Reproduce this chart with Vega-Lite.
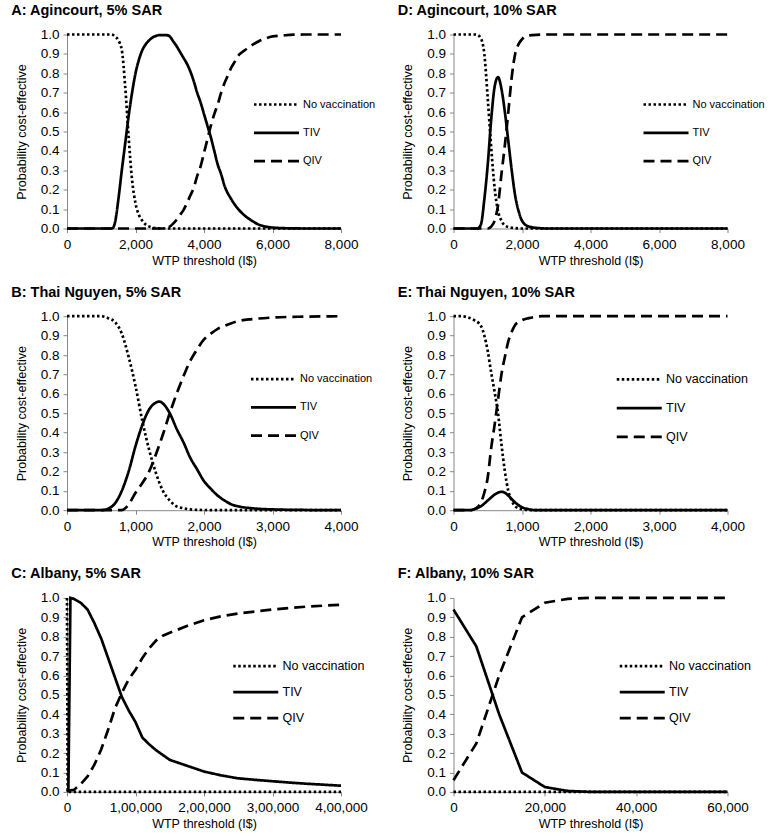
{
  "$schema": "https://vega.github.io/schema/vega-lite/v6.json",
  "padding": {"left": 11, "top": 2.5, "right": 0, "bottom": 5},
  "config": {
    "font": "Liberation Sans",
    "view": {"stroke": null},
    "axis": {
      "labelFont": "Liberation Sans", "labelFontSize": 13.5, "labelColor": "black",
      "titleFont": "Liberation Sans", "titleFontSize": 12.5, "titleFontWeight": "normal", "titleColor": "black",
      "domainColor": "#888888", "tickColor": "#888888", "tickSize": 4, "grid": false
    },
    "axisX": {"labelPadding": 5, "titlePadding": 3, "labelFlush": false, "labelOverlap": false},
    "axisY": {"labelPadding": 4, "titlePadding": 12},
    "title": {"anchor": "start", "frame": "bounds", "font": "Liberation Sans", "fontSize": 14.5, "fontWeight": "bold", "color": "black", "offset": 9, "dx": -4},
    "legend": {
      "orient": "none", "title": null, "padding": 0,
      "symbolType": "M0,0H10", "symbolSize": 81, "symbolStrokeWidth": 2.6, "symbolStrokeColor": "black",
      "labelOffset": 43, "labelFont": "Liberation Sans", "labelColor": "black"
    },
    "line": {"color": "black", "strokeWidth": 2.7}
  },
  "datasets": {
    "A": [
      {"s":"No vaccination","x":0,"y":1},{"s":"No vaccination","x":1300,"y":1},{"s":"No vaccination","x":1400,"y":0.99},{"s":"No vaccination","x":1500,"y":0.97},{"s":"No vaccination","x":1600,"y":0.92},{"s":"No vaccination","x":1700,"y":0.73},{"s":"No vaccination","x":1800,"y":0.47},{"s":"No vaccination","x":1900,"y":0.25},{"s":"No vaccination","x":2000,"y":0.13},{"s":"No vaccination","x":2100,"y":0.07},{"s":"No vaccination","x":2200,"y":0.04},{"s":"No vaccination","x":2300,"y":0.02},{"s":"No vaccination","x":2400,"y":0.01},{"s":"No vaccination","x":2500,"y":0.004},{"s":"No vaccination","x":2700,"y":0.001},{"s":"No vaccination","x":2900,"y":0},{"s":"No vaccination","x":8000,"y":0},
      {"s":"TIV","x":0,"y":0},{"s":"TIV","x":1300,"y":0},{"s":"TIV","x":1350,"y":0.005},{"s":"TIV","x":1400,"y":0.03},{"s":"TIV","x":1500,"y":0.15},{"s":"TIV","x":1600,"y":0.3},{"s":"TIV","x":1700,"y":0.44},{"s":"TIV","x":1800,"y":0.58},{"s":"TIV","x":1900,"y":0.7},{"s":"TIV","x":2000,"y":0.8},{"s":"TIV","x":2100,"y":0.87},{"s":"TIV","x":2200,"y":0.92},{"s":"TIV","x":2300,"y":0.95},{"s":"TIV","x":2400,"y":0.97},{"s":"TIV","x":2500,"y":0.985},{"s":"TIV","x":2600,"y":0.993},{"s":"TIV","x":2700,"y":0.997},{"s":"TIV","x":2900,"y":0.997},{"s":"TIV","x":3000,"y":0.99},{"s":"TIV","x":3100,"y":0.965},{"s":"TIV","x":3200,"y":0.94},{"s":"TIV","x":3300,"y":0.91},{"s":"TIV","x":3400,"y":0.88},{"s":"TIV","x":3500,"y":0.85},{"s":"TIV","x":3600,"y":0.81},{"s":"TIV","x":3700,"y":0.76},{"s":"TIV","x":3800,"y":0.7},{"s":"TIV","x":3900,"y":0.65},{"s":"TIV","x":4000,"y":0.59},{"s":"TIV","x":4100,"y":0.53},{"s":"TIV","x":4200,"y":0.47},{"s":"TIV","x":4300,"y":0.4},{"s":"TIV","x":4400,"y":0.33},{"s":"TIV","x":4500,"y":0.28},{"s":"TIV","x":4600,"y":0.22},{"s":"TIV","x":4800,"y":0.15},{"s":"TIV","x":5000,"y":0.1},{"s":"TIV","x":5200,"y":0.065},{"s":"TIV","x":5400,"y":0.04},{"s":"TIV","x":5600,"y":0.02},{"s":"TIV","x":5800,"y":0.01},{"s":"TIV","x":6000,"y":0.005},{"s":"TIV","x":6500,"y":0.001},{"s":"TIV","x":7000,"y":0},{"s":"TIV","x":8000,"y":0},
      {"s":"QIV","x":0,"y":0},{"s":"QIV","x":2800,"y":0},{"s":"QIV","x":2900,"y":0.003},{"s":"QIV","x":3000,"y":0.01},{"s":"QIV","x":3100,"y":0.025},{"s":"QIV","x":3200,"y":0.045},{"s":"QIV","x":3300,"y":0.07},{"s":"QIV","x":3400,"y":0.095},{"s":"QIV","x":3500,"y":0.13},{"s":"QIV","x":3600,"y":0.17},{"s":"QIV","x":3700,"y":0.21},{"s":"QIV","x":3800,"y":0.27},{"s":"QIV","x":3900,"y":0.32},{"s":"QIV","x":4000,"y":0.39},{"s":"QIV","x":4100,"y":0.46},{"s":"QIV","x":4200,"y":0.53},{"s":"QIV","x":4300,"y":0.59},{"s":"QIV","x":4400,"y":0.64},{"s":"QIV","x":4500,"y":0.7},{"s":"QIV","x":4600,"y":0.75},{"s":"QIV","x":4700,"y":0.79},{"s":"QIV","x":4800,"y":0.83},{"s":"QIV","x":4900,"y":0.86},{"s":"QIV","x":5000,"y":0.89},{"s":"QIV","x":5200,"y":0.92},{"s":"QIV","x":5400,"y":0.945},{"s":"QIV","x":5600,"y":0.965},{"s":"QIV","x":5800,"y":0.98},{"s":"QIV","x":6000,"y":0.99},{"s":"QIV","x":6300,"y":0.995},{"s":"QIV","x":6600,"y":0.999},{"s":"QIV","x":7000,"y":1},{"s":"QIV","x":8000,"y":1}
    ],
    "D": [
      {"s":"No vaccination","x":0,"y":1},{"s":"No vaccination","x":600,"y":1},{"s":"No vaccination","x":700,"y":0.997},{"s":"No vaccination","x":800,"y":0.98},{"s":"No vaccination","x":900,"y":0.9},{"s":"No vaccination","x":1000,"y":0.67},{"s":"No vaccination","x":1100,"y":0.42},{"s":"No vaccination","x":1200,"y":0.21},{"s":"No vaccination","x":1300,"y":0.09},{"s":"No vaccination","x":1400,"y":0.04},{"s":"No vaccination","x":1500,"y":0.015},{"s":"No vaccination","x":1700,"y":0.004},{"s":"No vaccination","x":2000,"y":0},{"s":"No vaccination","x":8000,"y":0},
      {"s":"TIV","x":0,"y":0},{"s":"TIV","x":700,"y":0},{"s":"TIV","x":800,"y":0.02},{"s":"TIV","x":900,"y":0.15},{"s":"TIV","x":1000,"y":0.33},{"s":"TIV","x":1100,"y":0.56},{"s":"TIV","x":1200,"y":0.73},{"s":"TIV","x":1300,"y":0.78},{"s":"TIV","x":1400,"y":0.72},{"s":"TIV","x":1500,"y":0.6},{"s":"TIV","x":1600,"y":0.45},{"s":"TIV","x":1700,"y":0.3},{"s":"TIV","x":1800,"y":0.17},{"s":"TIV","x":1900,"y":0.09},{"s":"TIV","x":2000,"y":0.04},{"s":"TIV","x":2200,"y":0.01},{"s":"TIV","x":2500,"y":0.002},{"s":"TIV","x":2700,"y":0},{"s":"TIV","x":8000,"y":0},
      {"s":"QIV","x":0,"y":0},{"s":"QIV","x":1000,"y":0},{"s":"QIV","x":1100,"y":0.01},{"s":"QIV","x":1200,"y":0.04},{"s":"QIV","x":1300,"y":0.12},{"s":"QIV","x":1400,"y":0.28},{"s":"QIV","x":1500,"y":0.43},{"s":"QIV","x":1600,"y":0.6},{"s":"QIV","x":1700,"y":0.78},{"s":"QIV","x":1800,"y":0.9},{"s":"QIV","x":1900,"y":0.95},{"s":"QIV","x":2000,"y":0.975},{"s":"QIV","x":2100,"y":0.99},{"s":"QIV","x":2300,"y":0.997},{"s":"QIV","x":2600,"y":1},{"s":"QIV","x":8000,"y":1}
    ],
    "B": [
      {"s":"No vaccination","x":0,"y":1},{"s":"No vaccination","x":500,"y":1},{"s":"No vaccination","x":600,"y":0.99},{"s":"No vaccination","x":700,"y":0.97},{"s":"No vaccination","x":800,"y":0.91},{"s":"No vaccination","x":900,"y":0.79},{"s":"No vaccination","x":1000,"y":0.64},{"s":"No vaccination","x":1100,"y":0.46},{"s":"No vaccination","x":1200,"y":0.31},{"s":"No vaccination","x":1300,"y":0.19},{"s":"No vaccination","x":1400,"y":0.1},{"s":"No vaccination","x":1500,"y":0.05},{"s":"No vaccination","x":1600,"y":0.02},{"s":"No vaccination","x":1700,"y":0.01},{"s":"No vaccination","x":1800,"y":0.004},{"s":"No vaccination","x":2000,"y":0.001},{"s":"No vaccination","x":2500,"y":0},{"s":"No vaccination","x":4000,"y":0},
      {"s":"TIV","x":0,"y":0},{"s":"TIV","x":500,"y":0},{"s":"TIV","x":600,"y":0.008},{"s":"TIV","x":700,"y":0.035},{"s":"TIV","x":800,"y":0.1},{"s":"TIV","x":900,"y":0.2},{"s":"TIV","x":1000,"y":0.33},{"s":"TIV","x":1100,"y":0.44},{"s":"TIV","x":1200,"y":0.52},{"s":"TIV","x":1300,"y":0.555},{"s":"TIV","x":1350,"y":0.56},{"s":"TIV","x":1400,"y":0.55},{"s":"TIV","x":1500,"y":0.5},{"s":"TIV","x":1600,"y":0.42},{"s":"TIV","x":1700,"y":0.35},{"s":"TIV","x":1800,"y":0.27},{"s":"TIV","x":1900,"y":0.21},{"s":"TIV","x":2000,"y":0.15},{"s":"TIV","x":2100,"y":0.11},{"s":"TIV","x":2200,"y":0.075},{"s":"TIV","x":2300,"y":0.05},{"s":"TIV","x":2400,"y":0.03},{"s":"TIV","x":2500,"y":0.02},{"s":"TIV","x":2700,"y":0.01},{"s":"TIV","x":3000,"y":0.004},{"s":"TIV","x":3500,"y":0.001},{"s":"TIV","x":4000,"y":0},
      {"s":"QIV","x":0,"y":0},{"s":"QIV","x":800,"y":0},{"s":"QIV","x":850,"y":0.01},{"s":"QIV","x":900,"y":0.03},{"s":"QIV","x":1000,"y":0.09},{"s":"QIV","x":1100,"y":0.14},{"s":"QIV","x":1200,"y":0.2},{"s":"QIV","x":1300,"y":0.29},{"s":"QIV","x":1400,"y":0.39},{"s":"QIV","x":1500,"y":0.5},{"s":"QIV","x":1600,"y":0.6},{"s":"QIV","x":1700,"y":0.69},{"s":"QIV","x":1800,"y":0.77},{"s":"QIV","x":1900,"y":0.83},{"s":"QIV","x":2000,"y":0.88},{"s":"QIV","x":2100,"y":0.91},{"s":"QIV","x":2200,"y":0.935},{"s":"QIV","x":2300,"y":0.95},{"s":"QIV","x":2500,"y":0.975},{"s":"QIV","x":2700,"y":0.985},{"s":"QIV","x":3000,"y":0.993},{"s":"QIV","x":3500,"y":0.998},{"s":"QIV","x":4000,"y":1}
    ],
    "E": [
      {"s":"No vaccination","x":0,"y":1},{"s":"No vaccination","x":100,"y":1},{"s":"No vaccination","x":200,"y":0.995},{"s":"No vaccination","x":300,"y":0.98},{"s":"No vaccination","x":400,"y":0.95},{"s":"No vaccination","x":450,"y":0.9},{"s":"No vaccination","x":500,"y":0.82},{"s":"No vaccination","x":550,"y":0.71},{"s":"No vaccination","x":600,"y":0.61},{"s":"No vaccination","x":650,"y":0.5},{"s":"No vaccination","x":700,"y":0.34},{"s":"No vaccination","x":750,"y":0.2},{"s":"No vaccination","x":800,"y":0.1},{"s":"No vaccination","x":850,"y":0.05},{"s":"No vaccination","x":900,"y":0.02},{"s":"No vaccination","x":1000,"y":0.005},{"s":"No vaccination","x":1100,"y":0.001},{"s":"No vaccination","x":1200,"y":0},{"s":"No vaccination","x":4000,"y":0},
      {"s":"TIV","x":0,"y":0},{"s":"TIV","x":250,"y":0},{"s":"TIV","x":300,"y":0.005},{"s":"TIV","x":400,"y":0.02},{"s":"TIV","x":500,"y":0.05},{"s":"TIV","x":600,"y":0.08},{"s":"TIV","x":700,"y":0.095},{"s":"TIV","x":750,"y":0.09},{"s":"TIV","x":800,"y":0.075},{"s":"TIV","x":900,"y":0.04},{"s":"TIV","x":1000,"y":0.015},{"s":"TIV","x":1100,"y":0.005},{"s":"TIV","x":1200,"y":0},{"s":"TIV","x":4000,"y":0},
      {"s":"QIV","x":0,"y":0},{"s":"QIV","x":250,"y":0},{"s":"QIV","x":300,"y":0.005},{"s":"QIV","x":350,"y":0.015},{"s":"QIV","x":400,"y":0.04},{"s":"QIV","x":450,"y":0.09},{"s":"QIV","x":500,"y":0.17},{"s":"QIV","x":550,"y":0.32},{"s":"QIV","x":600,"y":0.44},{"s":"QIV","x":650,"y":0.57},{"s":"QIV","x":700,"y":0.7},{"s":"QIV","x":750,"y":0.79},{"s":"QIV","x":800,"y":0.87},{"s":"QIV","x":850,"y":0.92},{"s":"QIV","x":900,"y":0.955},{"s":"QIV","x":950,"y":0.97},{"s":"QIV","x":1000,"y":0.98},{"s":"QIV","x":1100,"y":0.99},{"s":"QIV","x":1200,"y":0.997},{"s":"QIV","x":1300,"y":1},{"s":"QIV","x":4000,"y":1}
    ],
    "C": [
      {"s":"No vaccination","x":0,"y":1},{"s":"No vaccination","x":1000,"y":0},{"s":"No vaccination","x":400000,"y":0},
      {"s":"TIV","x":0,"y":0},{"s":"TIV","x":2000,"y":0.01},{"s":"TIV","x":5000,"y":1},{"s":"TIV","x":10000,"y":0.995},{"s":"TIV","x":20000,"y":0.975},{"s":"TIV","x":30000,"y":0.94},{"s":"TIV","x":40000,"y":0.87},{"s":"TIV","x":50000,"y":0.79},{"s":"TIV","x":60000,"y":0.69},{"s":"TIV","x":70000,"y":0.59},{"s":"TIV","x":80000,"y":0.49},{"s":"TIV","x":90000,"y":0.42},{"s":"TIV","x":100000,"y":0.36},{"s":"TIV","x":110000,"y":0.28},{"s":"TIV","x":120000,"y":0.245},{"s":"TIV","x":130000,"y":0.215},{"s":"TIV","x":140000,"y":0.19},{"s":"TIV","x":150000,"y":0.165},{"s":"TIV","x":175000,"y":0.135},{"s":"TIV","x":200000,"y":0.105},{"s":"TIV","x":225000,"y":0.085},{"s":"TIV","x":250000,"y":0.07},{"s":"TIV","x":275000,"y":0.062},{"s":"TIV","x":300000,"y":0.055},{"s":"TIV","x":325000,"y":0.048},{"s":"TIV","x":350000,"y":0.042},{"s":"TIV","x":375000,"y":0.037},{"s":"TIV","x":400000,"y":0.032},
      {"s":"QIV","x":0,"y":0.005},{"s":"QIV","x":10000,"y":0.01},{"s":"QIV","x":20000,"y":0.04},{"s":"QIV","x":30000,"y":0.08},{"s":"QIV","x":40000,"y":0.14},{"s":"QIV","x":50000,"y":0.22},{"s":"QIV","x":60000,"y":0.32},{"s":"QIV","x":70000,"y":0.43},{"s":"QIV","x":80000,"y":0.51},{"s":"QIV","x":90000,"y":0.58},{"s":"QIV","x":100000,"y":0.63},{"s":"QIV","x":110000,"y":0.69},{"s":"QIV","x":120000,"y":0.74},{"s":"QIV","x":130000,"y":0.78},{"s":"QIV","x":140000,"y":0.805},{"s":"QIV","x":150000,"y":0.82},{"s":"QIV","x":175000,"y":0.855},{"s":"QIV","x":200000,"y":0.885},{"s":"QIV","x":225000,"y":0.905},{"s":"QIV","x":250000,"y":0.92},{"s":"QIV","x":275000,"y":0.93},{"s":"QIV","x":300000,"y":0.94},{"s":"QIV","x":350000,"y":0.955},{"s":"QIV","x":400000,"y":0.965}
    ],
    "F": [
      {"s":"No vaccination","x":0,"y":0},{"s":"No vaccination","x":60000,"y":0},
      {"s":"TIV","x":0,"y":0.94},{"s":"TIV","x":5000,"y":0.75},{"s":"TIV","x":10000,"y":0.4},{"s":"TIV","x":15000,"y":0.1},{"s":"TIV","x":20000,"y":0.025},{"s":"TIV","x":25000,"y":0.005},{"s":"TIV","x":30000,"y":0},{"s":"TIV","x":60000,"y":0},
      {"s":"QIV","x":0,"y":0.06},{"s":"QIV","x":5000,"y":0.25},{"s":"QIV","x":10000,"y":0.6},{"s":"QIV","x":15000,"y":0.9},{"s":"QIV","x":20000,"y":0.975},{"s":"QIV","x":25000,"y":0.995},{"s":"QIV","x":30000,"y":1},{"s":"QIV","x":60000,"y":1}
    ]
  },
  "columns": 2,
  "spacing": {"row": 17.7, "column": 21.5},
  "resolve": {"scale": {"strokeDash": "independent"}, "legend": {"strokeDash": "independent"}},
  "concat": [
    {
      "data": {"name": "A"}, "title": "A: Agincourt, 5% SAR", "width": 274, "height": 194,
      "mark": {"type": "line", "interpolate": "monotone"},
      "encoding": {
        "x": {"field": "x", "type": "quantitative", "scale": {"domain": [0, 8000], "nice": false}, "axis": {"values": [0, 2000, 4000, 6000, 8000], "format": ",d", "title": "WTP threshold (I$)"}},
        "y": {"field": "y", "type": "quantitative", "scale": {"domain": [0, 1], "nice": false}, "axis": {"values": [0,0.1,0.2,0.3,0.4,0.5,0.6,0.7,0.8,0.9,1], "format": ".1f", "title": "Probability cost-effective"}},
        "strokeDash": {"field": "s", "type": "nominal", "scale": {"domain": ["No vaccination", "TIV", "QIV"], "range": [[2.5, 2.5], [1, 0], [11, 6]]}, "legend": {"legendX": 181, "legendY": 64, "labelFontSize": 11, "rowPadding": 16.3}}
      }
    },
    {
      "data": {"name": "D"}, "title": "D: Agincourt, 10% SAR", "width": 274, "height": 194,
      "mark": {"type": "line", "interpolate": "monotone"},
      "encoding": {
        "x": {"field": "x", "type": "quantitative", "scale": {"domain": [0, 8000], "nice": false}, "axis": {"values": [0, 2000, 4000, 6000, 8000], "format": ",d", "title": "WTP threshold (I$)"}},
        "y": {"field": "y", "type": "quantitative", "scale": {"domain": [0, 1], "nice": false}, "axis": {"values": [0,0.1,0.2,0.3,0.4,0.5,0.6,0.7,0.8,0.9,1], "format": ".1f", "title": "Probability cost-effective"}},
        "strokeDash": {"field": "s", "type": "nominal", "scale": {"domain": ["No vaccination", "TIV", "QIV"], "range": [[2.5, 2.5], [1, 0], [11, 6]]}, "legend": {"legendX": 184, "legendY": 64, "labelFontSize": 11, "rowPadding": 16.3}}
      }
    },
    {
      "data": {"name": "B"}, "title": "B: Thai Nguyen, 5% SAR", "width": 274, "height": 194,
      "mark": {"type": "line", "interpolate": "monotone"},
      "encoding": {
        "x": {"field": "x", "type": "quantitative", "scale": {"domain": [0, 4000], "nice": false}, "axis": {"values": [0, 1000, 2000, 3000, 4000], "format": ",d", "title": "WTP threshold (I$)"}},
        "y": {"field": "y", "type": "quantitative", "scale": {"domain": [0, 1], "nice": false}, "axis": {"values": [0,0.1,0.2,0.3,0.4,0.5,0.6,0.7,0.8,0.9,1], "format": ".1f", "title": "Probability cost-effective"}},
        "strokeDash": {"field": "s", "type": "nominal", "scale": {"domain": ["No vaccination", "TIV", "QIV"], "range": [[2.5, 2.5], [1, 0], [11, 6]]}, "legend": {"legendX": 178, "legendY": 57, "labelFontSize": 11, "rowPadding": 16.2}}
      }
    },
    {
      "data": {"name": "E"}, "title": "E: Thai Nguyen, 10% SAR", "width": 274, "height": 194,
      "mark": {"type": "line", "interpolate": "monotone"},
      "encoding": {
        "x": {"field": "x", "type": "quantitative", "scale": {"domain": [0, 4000], "nice": false}, "axis": {"values": [0, 1000, 2000, 3000, 4000], "format": ",d", "title": "WTP threshold (I$)"}},
        "y": {"field": "y", "type": "quantitative", "scale": {"domain": [0, 1], "nice": false}, "axis": {"values": [0,0.1,0.2,0.3,0.4,0.5,0.6,0.7,0.8,0.9,1], "format": ".1f", "title": "Probability cost-effective"}},
        "strokeDash": {"field": "s", "type": "nominal", "scale": {"domain": ["No vaccination", "TIV", "QIV"], "range": [[2.5, 2.5], [1, 0], [11, 6]]}, "legend": {"legendX": 157, "legendY": 57, "labelFontSize": 12.5, "rowPadding": 15.7}}
      }
    },
    {
      "data": {"name": "C"}, "title": "C: Albany, 5% SAR", "width": 274, "height": 194,
      "mark": {"type": "line"},
      "encoding": {
        "x": {"field": "x", "type": "quantitative", "scale": {"domain": [0, 400000], "nice": false}, "axis": {"values": [0, 100000, 200000, 300000, 400000], "labelExpr": "datum.value == 0 ? '0' : format(datum.value / 100000, 'd') + ',00,000'", "title": "WTP threshold (I$)"}},
        "y": {"field": "y", "type": "quantitative", "scale": {"domain": [0, 1], "nice": false}, "axis": {"values": [0,0.1,0.2,0.3,0.4,0.5,0.6,0.7,0.8,0.9,1], "format": ".1f", "title": "Probability cost-effective"}},
        "strokeDash": {"field": "s", "type": "nominal", "scale": {"domain": ["No vaccination", "TIV", "QIV"], "range": [[2.5, 2.5], [1, 0], [11, 6]]}, "legend": {"legendX": 160, "legendY": 62, "labelFontSize": 12.5, "rowPadding": 13}}
      }
    },
    {
      "data": {"name": "F"}, "title": "F: Albany, 10% SAR", "width": 274, "height": 194,
      "mark": {"type": "line"},
      "encoding": {
        "x": {"field": "x", "type": "quantitative", "scale": {"domain": [0, 60000], "nice": false}, "axis": {"values": [0, 20000, 40000, 60000], "format": ",d", "title": "WTP threshold (I$)"}},
        "y": {"field": "y", "type": "quantitative", "scale": {"domain": [0, 1], "nice": false}, "axis": {"values": [0,0.1,0.2,0.3,0.4,0.5,0.6,0.7,0.8,0.9,1], "format": ".1f", "title": "Probability cost-effective"}},
        "strokeDash": {"field": "s", "type": "nominal", "scale": {"domain": ["No vaccination", "TIV", "QIV"], "range": [[2.5, 2.5], [1, 0], [11, 6]]}, "legend": {"legendX": 160, "legendY": 62, "labelFontSize": 12.5, "rowPadding": 13}}
      }
    }
  ]
}
